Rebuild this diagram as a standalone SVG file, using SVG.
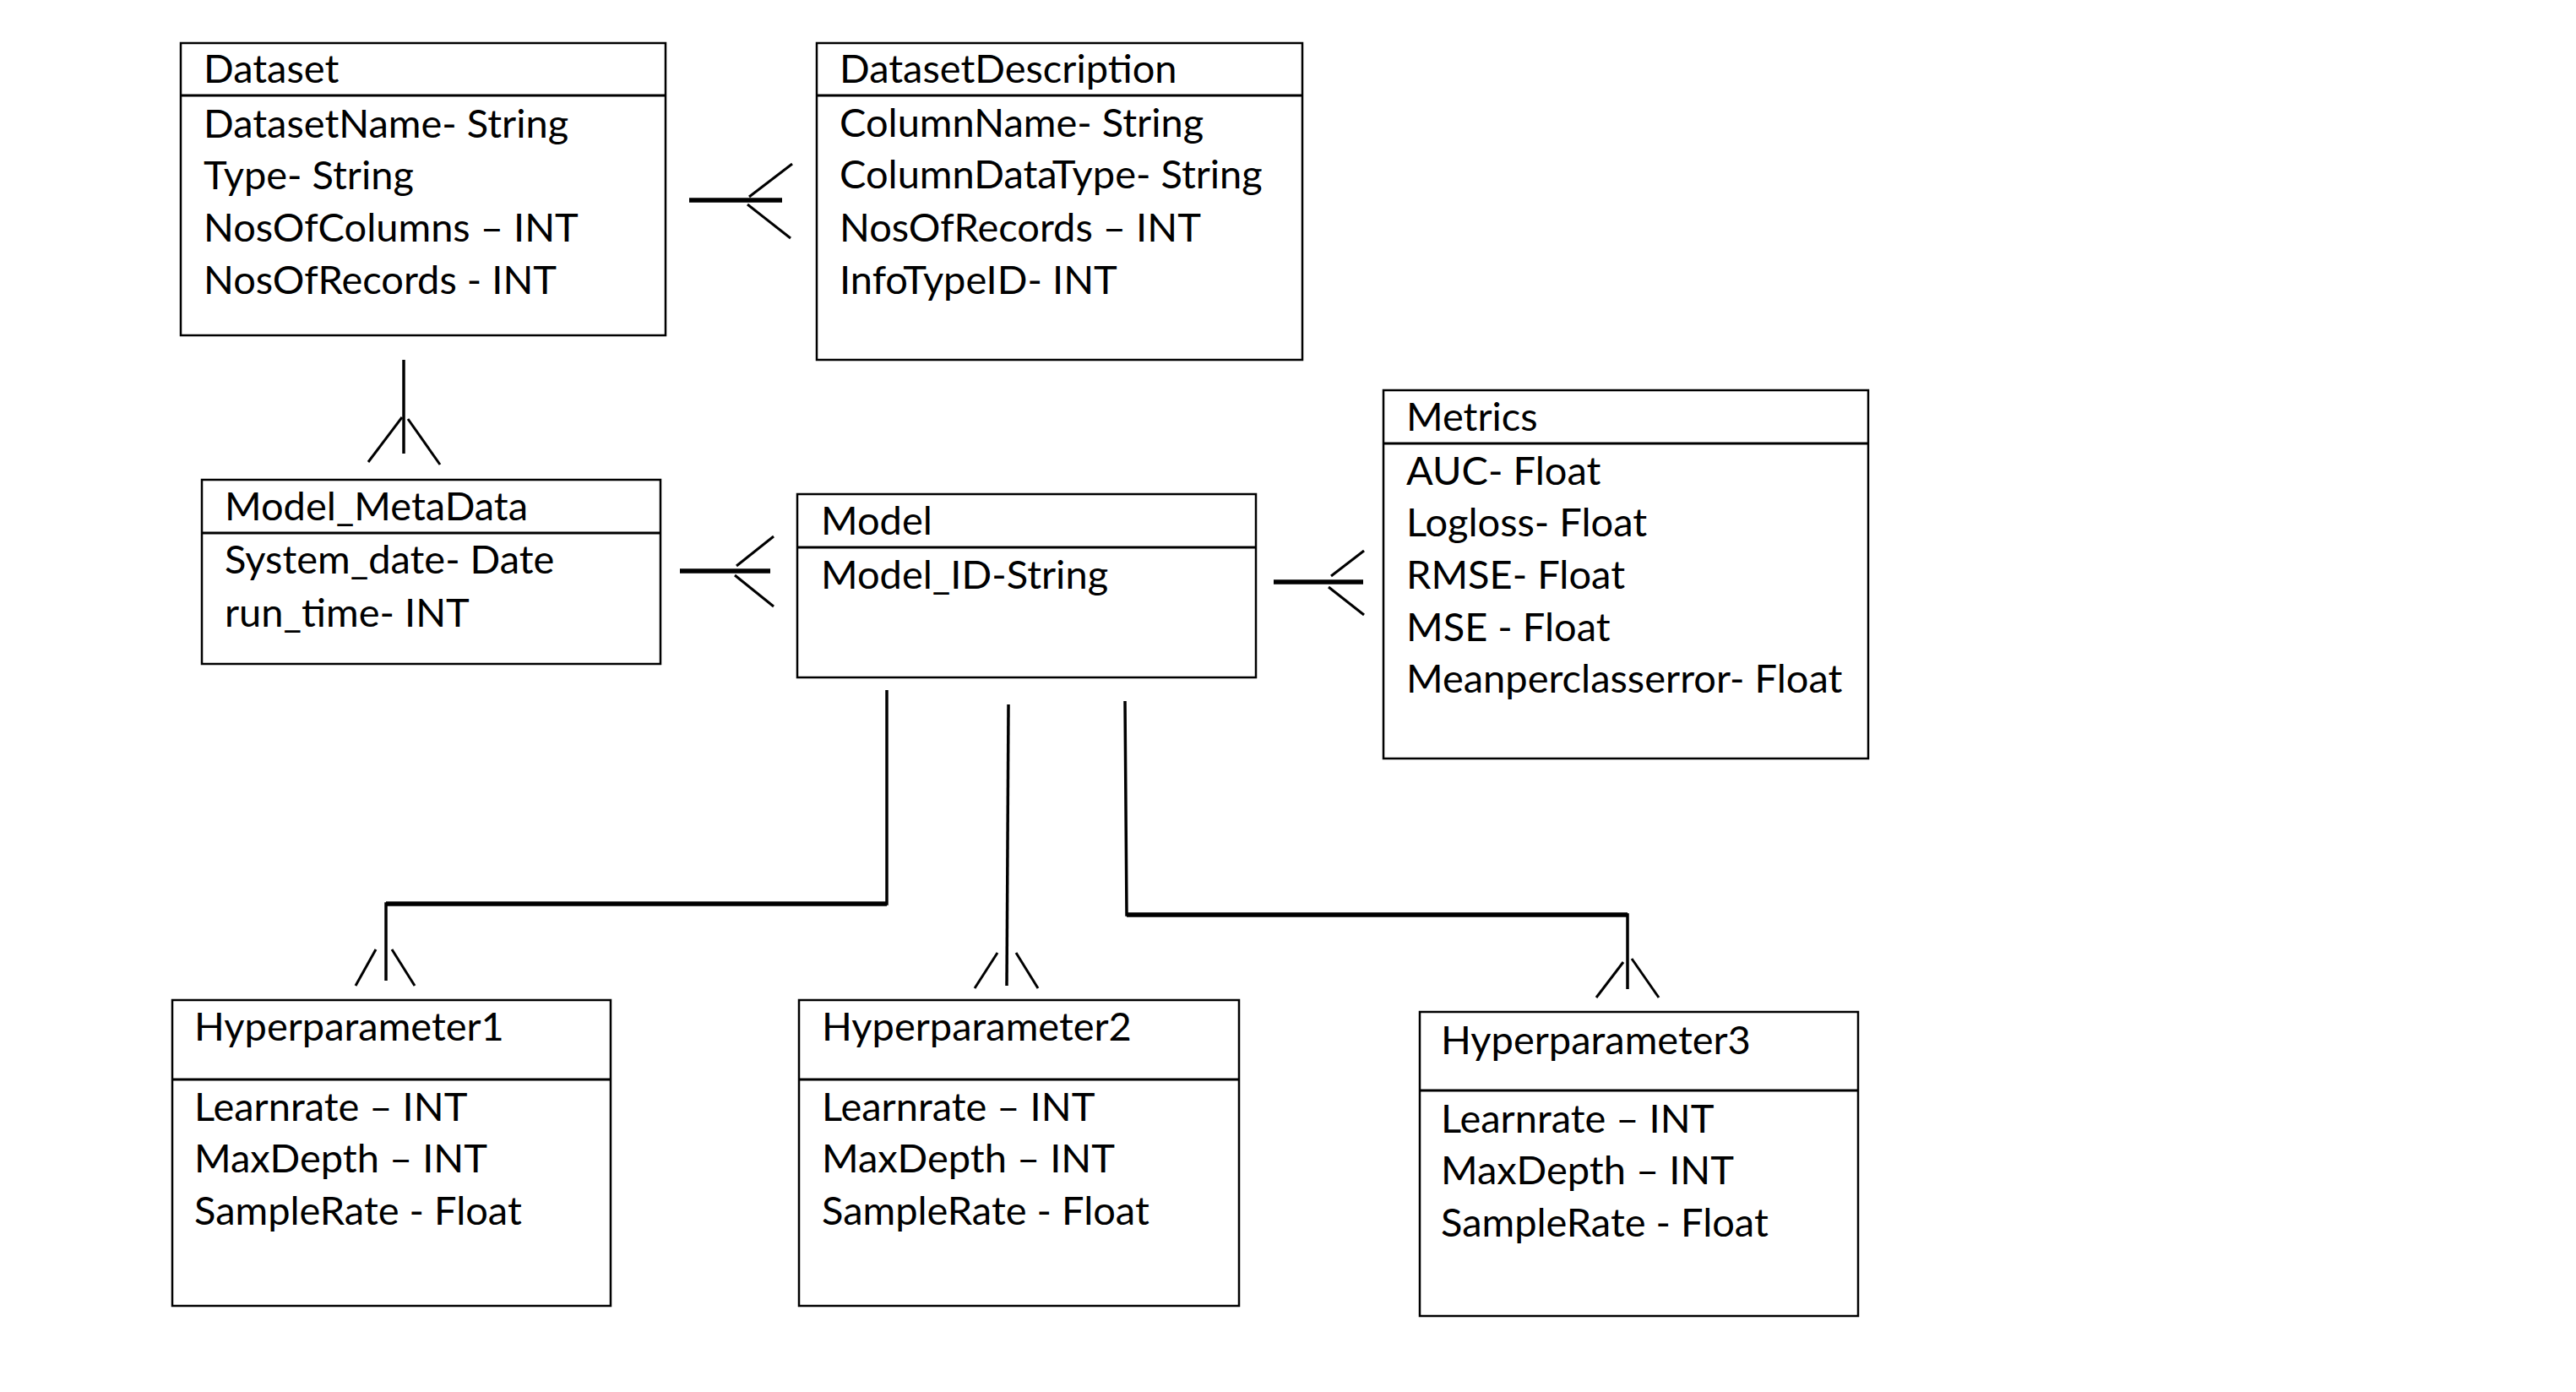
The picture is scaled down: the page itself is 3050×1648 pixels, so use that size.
<svg xmlns="http://www.w3.org/2000/svg" width="3050" height="1648" viewBox="0 0 3050 1648">
<style>
.box{fill:#fff;stroke:#000;stroke-width:2.5}
.div{stroke:#000;stroke-width:3}
.t{font-family:Lato,"Liberation Sans",sans-serif;font-size:47px;fill:#000}
.c{stroke:#000;stroke-width:3.5;fill:none;stroke-linecap:butt}
.ct{stroke:#000;stroke-width:5.5;fill:none}
.f{stroke:#000;stroke-width:3;fill:none}
</style>
<rect width="3050" height="1648" fill="#fff"/>
<g id="Dataset">
<rect class="box" x="214" y="51" width="574" height="346"/>
<line class="div" x1="214" y1="113" x2="788" y2="113"/>
<text class="t" x="241" y="98">Dataset</text>
<text class="t" x="241" y="163">DatasetName- String</text>
<text class="t" x="241" y="224">Type- String</text>
<text class="t" x="241" y="286">NosOfColumns – INT</text>
<text class="t" x="241" y="348">NosOfRecords - INT</text>
</g>
<g id="DatasetDescription">
<rect class="box" x="967" y="51" width="575" height="375"/>
<line class="div" x1="967" y1="113" x2="1542" y2="113"/>
<text class="t" x="994" y="98">DatasetDescription</text>
<text class="t" x="994" y="162">ColumnName- String</text>
<text class="t" x="994" y="223">ColumnDataType- String</text>
<text class="t" x="994" y="286">NosOfRecords – INT</text>
<text class="t" x="994" y="348">InfoTypeID- INT</text>
</g>
<g id="Model_MetaData">
<rect class="box" x="239" y="568" width="543" height="218"/>
<line class="div" x1="239" y1="631" x2="782" y2="631"/>
<text class="t" x="266" y="616">Model_MetaData</text>
<text class="t" x="266" y="679">System_date- Date</text>
<text class="t" x="266" y="742">run_time- INT</text>
</g>
<g id="Model">
<rect class="box" x="944" y="585" width="543" height="217"/>
<line class="div" x1="944" y1="648" x2="1487" y2="648"/>
<text class="t" x="972" y="633">Model</text>
<text class="t" x="972" y="697">Model_ID-String</text>
</g>
<g id="Metrics">
<rect class="box" x="1638" y="462" width="574" height="436"/>
<line class="div" x1="1638" y1="525" x2="2212" y2="525"/>
<text class="t" x="1665" y="510">Metrics</text>
<text class="t" x="1665" y="574">AUC- Float</text>
<text class="t" x="1665" y="635">Logloss- Float</text>
<text class="t" x="1665" y="697">RMSE- Float</text>
<text class="t" x="1665" y="759">MSE - Float</text>
<text class="t" x="1665" y="820">Meanperclasserror- Float</text>
</g>
<g id="Hyperparameter1">
<rect class="box" x="204" y="1184" width="519" height="362"/>
<line class="div" x1="204" y1="1278" x2="723" y2="1278"/>
<text class="t" x="230" y="1232">Hyperparameter1</text>
<text class="t" x="230" y="1327">Learnrate – INT</text>
<text class="t" x="230" y="1388">MaxDepth – INT</text>
<text class="t" x="230" y="1450">SampleRate - Float</text>
</g>
<g id="Hyperparameter2">
<rect class="box" x="946" y="1184" width="521" height="362"/>
<line class="div" x1="946" y1="1278" x2="1467" y2="1278"/>
<text class="t" x="973" y="1232">Hyperparameter2</text>
<text class="t" x="973" y="1327">Learnrate – INT</text>
<text class="t" x="973" y="1388">MaxDepth – INT</text>
<text class="t" x="973" y="1450">SampleRate - Float</text>
</g>
<g id="Hyperparameter3">
<rect class="box" x="1681" y="1198" width="519" height="360"/>
<line class="div" x1="1681" y1="1291" x2="2200" y2="1291"/>
<text class="t" x="1706" y="1248">Hyperparameter3</text>
<text class="t" x="1706" y="1341">Learnrate – INT</text>
<text class="t" x="1706" y="1402">MaxDepth – INT</text>
<text class="t" x="1706" y="1464">SampleRate - Float</text>
</g>
<g id="connectors">
<line class="ct" x1="816" y1="237" x2="926" y2="237"/>
<line class="f" x1="887" y1="233" x2="938" y2="194"/>
<line class="f" x1="885" y1="242" x2="936" y2="282"/>
<line class="c" x1="478" y1="426" x2="478" y2="537"/>
<line class="f" x1="476" y1="494" x2="436" y2="547"/>
<line class="f" x1="483" y1="496" x2="521" y2="550"/>
<line class="ct" x1="805" y1="676" x2="912" y2="676"/>
<line class="f" x1="872" y1="670" x2="916" y2="635"/>
<line class="f" x1="870" y1="681" x2="916" y2="718"/>
<line class="ct" x1="1508" y1="689" x2="1614" y2="689"/>
<line class="f" x1="1576" y1="682" x2="1615" y2="652"/>
<line class="f" x1="1573" y1="695" x2="1615" y2="728"/>
<polyline class="c" points="1050,817 1050,1070 457,1070 457,1161"/>
<line class="ct" x1="1050" y1="1070" x2="457" y2="1070"/>
<line class="f" x1="421" y1="1167" x2="445" y2="1124"/>
<line class="f" x1="464" y1="1124" x2="491" y2="1167"/>
<line class="c" x1="1194" y1="834" x2="1192" y2="1167"/>
<line class="f" x1="1154" y1="1170" x2="1181" y2="1128"/>
<line class="f" x1="1203" y1="1128" x2="1229" y2="1170"/>
<polyline class="c" points="1332,830 1334,1083 1927,1083 1927,1171"/>
<line class="ct" x1="1334" y1="1083" x2="1927" y2="1083"/>
<line class="f" x1="1890" y1="1181" x2="1922" y2="1139"/>
<line class="f" x1="1932" y1="1135" x2="1964" y2="1181"/>
</g>
</svg>
